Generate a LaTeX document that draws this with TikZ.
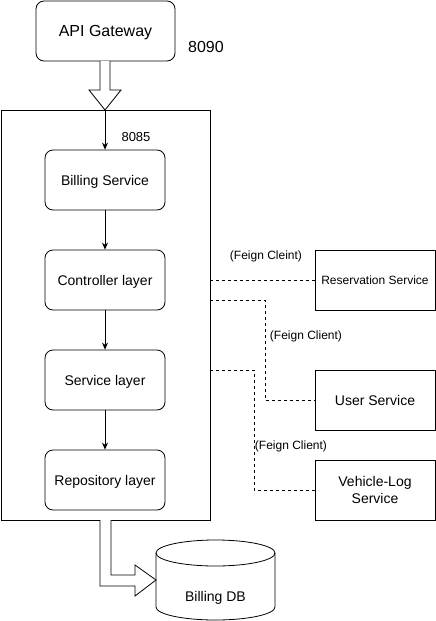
\documentclass[tikz,border=0pt]{standalone}
\usepackage{fontspec}
\setmainfont{Liberation Sans}
\usetikzlibrary{arrows.meta}

\tikzset{
    layer/.style={draw, rounded corners=8pt, minimum width=120pt, minimum height=60pt, text depth=0pt, font=\fontsize{14}{17}\selectfont},
    client/.style={draw, minimum width=120pt, minimum height=60pt, text depth=0pt, align=center},
    feign/.style={dash pattern=on 3pt off 3pt, line width=0.8pt},
    label/.style={font=\fontsize{12}{14}\selectfont}
}

\begin{document}
\begin{tikzpicture}[x=1pt, y=-1pt, line width=0.8pt, >={Stealth[length=7pt, width=6pt]}]

    \useasboundingbox (0,0) rectangle (436,621);

    \node[layer, minimum width=139pt, font=\fontsize{16}{19}\selectfont] (gateway) at (105.5,31) {API Gateway};
    \node[font=\fontsize{16}{19}\selectfont] (port1) at (206,47) {8090};

    \node[draw, minimum width=209pt, minimum height=410pt] (billingbox) at (105.5,315) {};
    \node[font=\fontsize{13}{16}\selectfont] (port2) at (136,137) {8085};

    \draw[fill=white] (100,61) -- (100,90) -- (89,90) -- (105,110) -- (121,90) -- (110,90) -- (110,61);

    \node[layer] (billing) at (105,180) {Billing Service};
    \node[layer] (controller) at (105,280) {Controller layer};
    \node[layer] (service) at (105,380) {Service layer};
    \node[layer] (repository) at (105,480) {Repository layer};

    \draw[->] (105,110) -- (billing.north);
    \draw[->] (billing) -- (controller);
    \draw[->] (controller) -- (service);
    \draw[->] (service) -- (repository);

    \node[client, font=\fontsize{12}{14}\selectfont] (reservation) at (375,280) {Reservation Service};
    \node[client, font=\fontsize{14}{17}\selectfont] (user) at (375,400) {User Service};
    \node[client, font=\fontsize{14}{17}\selectfont] (vehicle) at (375,490) {Vehicle-Log\\Service};

    \coordinate (out1) at (210,280);
    \coordinate (out2) at (210,300);
    \coordinate (out3) at (210,370);

    \draw[feign] (out1) -- (reservation.west);
    \draw[feign] (out2) -- (265,300) |- (user.west);
    \draw[feign] (out3) -- (254,370) |- (vehicle.west);

    \node[label] (feign1) at (266,256) {(Feign Cleint)};
    \node[label] (feign2) at (306,336) {(Feign Client)};
    \node[label] (feign3) at (291,446) {(Feign Client)};

    \draw (156,553) -- (156,607) arc[start angle=180, end angle=0, x radius=59.5, y radius=13] -- (275,553);
    \draw (215.5,553) ellipse (59.5 and 13);
    \node[font=\fontsize{14}{17}\selectfont] (db) at (215.5,598) {Billing DB};

    \draw[fill=white] (100,520) -- (100,586) -- (135,586) -- (135,596) -- (156,580) -- (135,565) -- (135,575) -- (111,575) -- (111,520);

\end{tikzpicture}
\end{document}
